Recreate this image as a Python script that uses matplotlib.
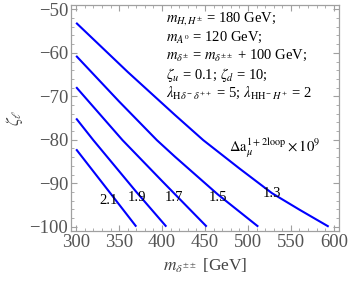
import matplotlib
matplotlib.use("Agg")
import matplotlib.pyplot as plt
from matplotlib.ticker import MultipleLocator

plt.rcParams["font.family"] = ["Liberation Serif", "DejaVu Serif"]
plt.rcParams["mathtext.fontset"] = "stix"

# contour lines of Delta a_mu x 1e9
levels = ["1.3", "1.5", "1.7", "1.9", "2.1"]
m_1p3 = [300, 360, 415, 448, 490, 528, 560, 594]
z_1p3 = [-53.1, -64.4, -74.3, -80.1, -86.6, -92.3, -96.1, -100.0]
m_1p5 = [300, 350, 394, 415, 465, 512]
z_1p5 = [-60.7, -71.2, -80.1, -83.9, -92.6, -100.0]
m_1p7 = [300, 354, 400, 452]
z_1p7 = [-67.9, -80.1, -89.5, -100.0]
m_1p9 = [300, 320, 370, 405]
z_1p9 = [-75.1, -80.1, -92.0, -100.0]
m_2p1 = [300, 339, 370]
z_2p1 = [-82.2, -92.1, -100.0]
lab_m = [528, 465, 414, 371, 338]
lab_z = [-92.3, -93.4, -93.4, -93.4, -93.9]

params = [r"$m_{H,H^{\pm}}$ = 180 GeV;",
          r"$m_{A^0}$ = 120 GeV;",
          r"$m_{\delta^{\pm}}$ = $m_{\delta^{\pm\pm}}$ + 100 GeV;",
          r"$\zeta_u$ = 0.1; $\zeta_d$ = 10;",
          r"$\lambda_{\mathrm{H}\delta^{-}\ \delta^{++}}$ = 5; $\lambda_{\mathrm{HH}^{-}\ H^{+}}$ = 2"]

fig = plt.figure(figsize=(3.5, 2.83), dpi=100)
ax = fig.add_axes([71/350, 1-231/283, 268/350, 226/283])

curves = [(m_1p3, z_1p3), (m_1p5, z_1p5), (m_1p7, z_1p7), (m_1p9, z_1p9), (m_2p1, z_2p1)]
for m, z in curves:
    ax.plot(m, z, color="#0000ff", lw=1.5, solid_capstyle="butt")
for lv, x, y in zip(levels, lab_m, lab_z):
    ax.text(x, y, lv, ha="center", va="center", fontsize=10.5, color="black")

ax.set_xlim(294, 606)
ax.set_ylim(-101, -49)
ax.xaxis.set_major_locator(MultipleLocator(50))
ax.xaxis.set_minor_locator(MultipleLocator(10))
ax.yaxis.set_major_locator(MultipleLocator(10))
ax.yaxis.set_minor_locator(MultipleLocator(2))
gray = "#a0a0a0"
for s in ax.spines.values():
    s.set_color(gray)
    s.set_linewidth(0.9)
ax.tick_params(which="both", direction="in", top=True, right=True, color=gray,
               labelcolor="#555555", labelsize=13.5, pad=2)
ax.tick_params(which="major", length=4)
ax.tick_params(which="minor", length=2)

ax.set_xlabel(r"$m_{\delta^{\pm\pm}}$ [GeV]", fontsize=12.5, color="#444444", labelpad=4)
ax.set_ylabel(r"$\zeta_\ell$", fontsize=12.5, color="#444444", labelpad=3)

for i, t in enumerate(params):
    ax.text(405, -52.1 - i*4.3, t, ha="left", va="center", fontsize=10.5)
ax.text(531, -81.9, r"$\Delta\mathrm{a}_\mu^{1+2\mathrm{loop}}\times 10^9$",
        ha="center", va="center", fontsize=10.5)

fig.savefig("out.png", dpi=100, facecolor="white")
